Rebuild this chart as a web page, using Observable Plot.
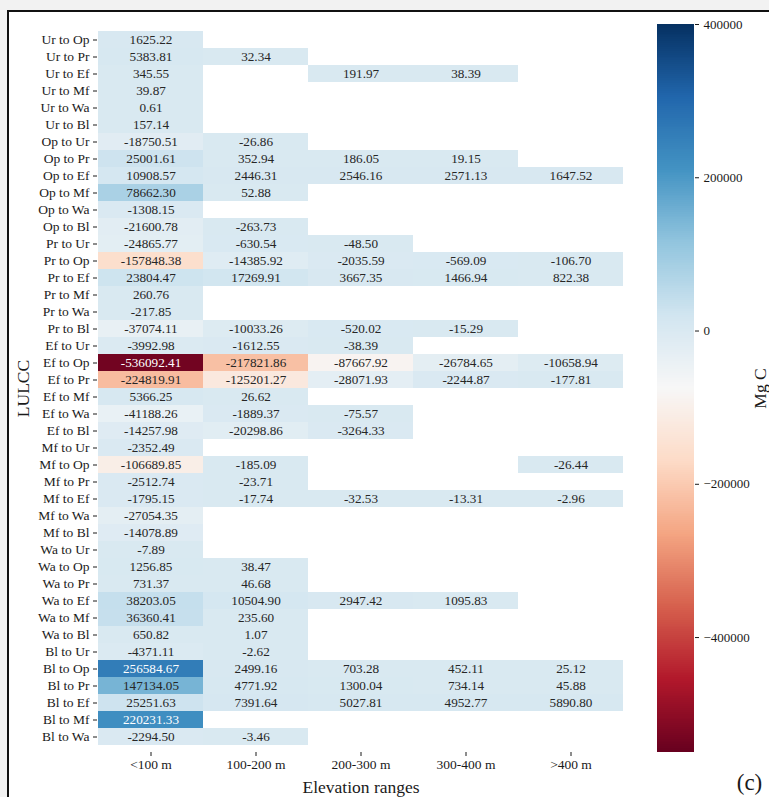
<!DOCTYPE html>
<html><head><meta charset="utf-8">
<script src="https://cdn.jsdelivr.net/npm/d3@7"></script>
<script src="https://cdn.jsdelivr.net/npm/@observablehq/plot@0.6"></script>
<style>
html,body{margin:0;padding:0;}
body{width:769px;height:797px;background:#f2f2f2;position:relative;overflow:hidden;font-family:"Liberation Serif","Times New Roman",serif;}
#frame{position:absolute;left:7px;top:10px;width:800px;height:820px;border-left:2px solid #111;border-top:2px solid #111;background:#fff;}
#heat{position:absolute;left:0;top:0;}
#cbar{position:absolute;left:640px;top:0;}
</style></head><body>
<div id="frame"></div><div id="heat"></div><div id="cbar"></div>
<script>
const lulcc = [
  "Ur to Op","Ur to Pr","Ur to Ef","Ur to Mf","Ur to Wa","Ur to Bl",
  "Op to Ur","Op to Pr","Op to Ef","Op to Mf","Op to Wa","Op to Bl",
  "Pr to Ur","Pr to Op","Pr to Ef","Pr to Mf","Pr to Wa","Pr to Bl",
  "Ef to Ur","Ef to Op","Ef to Pr","Ef to Mf","Ef to Wa","Ef to Bl",
  "Mf to Ur","Mf to Op","Mf to Pr","Mf to Ef","Mf to Wa","Mf to Bl",
  "Wa to Ur","Wa to Op","Wa to Pr","Wa to Ef","Wa to Mf","Wa to Bl",
  "Bl to Ur","Bl to Op","Bl to Pr","Bl to Ef","Bl to Mf","Bl to Wa"
];
const elevations = ["<100 m","100-200 m","200-300 m","300-400 m",">400 m"];
const n = null;
const below100 = [
  1625.22, 5383.81, 345.55, 39.87, 0.61, 157.14,
  -18750.51, 25001.61, 10908.57, 78662.30, -1308.15, -21600.78,
  -24865.77, -157848.38, 23804.47, 260.76, -217.85, -37074.11,
  -3992.98, -536092.41, -224819.91, 5366.25, -41188.26, -14257.98,
  -2352.49, -106689.85, -2512.74, -1795.15, -27054.35, -14078.89,
  -7.89, 1256.85, 731.37, 38203.05, 36360.41, 650.82,
  -4371.11, 256584.67, 147134.05, 25251.63, 220231.33, -2294.50
];
const from100to200 = [
  n, 32.34, n, n, n, n,
  -26.86, 352.94, 2446.31, 52.88, n, -263.73,
  -630.54, -14385.92, 17269.91, n, n, -10033.26,
  -1612.55, -217821.86, -125201.27, 26.62, -1889.37, -20298.86,
  n, -185.09, -23.71, -17.74, n, n,
  n, 38.47, 46.68, 10504.90, 235.60, 1.07,
  -2.62, 2499.16, 4771.92, 7391.64, n, -3.46
];
const from200to300 = [
  n, n, 191.97, n, n, n,
  n, 186.05, 2546.16, n, n, n,
  -48.50, -2035.59, 3667.35, n, n, -520.02,
  -38.39, -87667.92, -28071.93, n, -75.57, -3264.33,
  n, n, n, -32.53, n, n,
  n, n, n, 2947.42, n, n,
  n, 703.28, 1300.04, 5027.81, n, n
];
const from300to400 = [
  n, n, 38.39, n, n, n,
  n, 19.15, 2571.13, n, n, n,
  n, -569.09, 1466.94, n, n, -15.29,
  n, -26784.65, -2244.87, n, n, n,
  n, n, n, -13.31, n, n,
  n, n, n, 1095.83, n, n,
  n, 452.11, 734.14, 4952.77, n, n
];
const above400 = [
  n, n, n, n, n, n,
  n, n, 1647.52, n, n, n,
  n, -106.70, 822.38, n, n, n,
  n, -10658.94, -177.81, n, n, n,
  n, -26.44, n, -2.96, n, n,
  n, n, n, n, n, n,
  n, 25.12, 45.88, 5890.80, n, n
];
const colorbarTicks = [-400000, -200000, 0, 200000, 400000];
const vmin = -550000, vmax = 400000;
const rdbu = ["#67001f","#b2182b","#d6604d","#f4a582","#fddbc7","#f7f7f7","#d1e5f0","#92c5de","#4393c3","#2166ac","#053061"];

const FONT = '"Liberation Serif","Times New Roman",serif';
const stops = rdbu.map((_, i) => vmin + i * (vmax - vmin) / (rdbu.length - 1));
const colorOpts = {type: "linear", domain: stops, range: rdbu, interpolate: "rgb", clamp: true};
const toColor = d3.scaleLinear().domain(stops).range(rdbu).interpolate(d3.interpolateRgb).clamp(true);
function isDark(v) {
  const c = d3.rgb(toColor(v));
  const lin = x => { x /= 255; return x <= 0.03928 ? x / 12.92 : Math.pow((x + 0.055) / 1.055, 2.4); };
  const L = 0.2126 * lin(c.r) + 0.7152 * lin(c.g) + 0.0722 * lin(c.b);
  return L <= 0.408;
}
const columns = [below100, from100to200, from200to300, from300to400, above400];
const cells = [];
lulcc.forEach((name, i) => columns.forEach((col, j) => {
  if (col[i] != null) cells.push({lulcc: name, elev: elevations[j], value: col[i]});
}));

const heat = Plot.plot({
  width: 640, height: 797,
  marginLeft: 97, marginRight: 16, marginTop: 24, marginBottom: 45,
  style: {background: "transparent", fontFamily: FONT, fontSize: "13.5px", color: "#1a1a1a"},
  x: {domain: elevations, padding: 0, label: null, tickSize: 4, tickPadding: 3},
  y: {domain: lulcc, padding: 0, label: null, tickSize: 4, tickPadding: 4},
  color: colorOpts,
  marks: [
    Plot.cell(cells, {x: "elev", y: "lulcc", fill: "value", inset: 0, shapeRendering: "crispEdges"}),
    Plot.text(cells, {filter: d => !isDark(d.value), x: "elev", y: "lulcc", text: d => d.value.toFixed(2), fill: "#262626", fontSize: 13.2}),
    Plot.text(cells, {filter: d => isDark(d.value), x: "elev", y: "lulcc", text: d => d.value.toFixed(2), fill: "#ffffff", fontSize: 13.2}),
    Plot.text(["Elevation ranges"], {frameAnchor: "bottom", dy: 35, fontSize: 17.5, textAnchor: "middle", lineAnchor: "middle", fill: "#1a1a1a"}),
    Plot.text(["LULCC"], {frameAnchor: "left", dx: -74, rotate: -90, fontSize: 17.5, textAnchor: "middle", lineAnchor: "middle", fill: "#1a1a1a"})
  ]
});
document.getElementById("heat").appendChild(heat);

const nSteps = 380;
const stepH = (vmax - vmin) / nSteps;
const barValues = d3.range(nSteps).map(i => vmin + (i + 0.5) * stepH);
const cbar = Plot.plot({
  width: 129, height: 797,
  marginLeft: 17, marginRight: 75, marginTop: 24, marginBottom: 45,
  style: {background: "transparent", fontFamily: FONT, fontSize: "13px", color: "#1a1a1a"},
  x: {domain: [0, 1], axis: null},
  y: {domain: [vmin, vmax], axis: "right", ticks: colorbarTicks, tickSize: 4, tickPadding: 5, label: null,
      tickFormat: d => d < 0 ? "\u2212" + String(-d) : String(d)},
  color: colorOpts,
  marks: [
    Plot.rect(barValues, {x1: 0, x2: 1, y1: d => Math.max(vmin, d - stepH * 0.5), y2: d => Math.min(vmax, d + stepH * 0.6), fill: d => d, shapeRendering: "crispEdges"}),
    Plot.text(["Mg C"], {frameAnchor: "right", dx: 66, rotate: -90, fontSize: 17.5, textAnchor: "middle", lineAnchor: "middle", fill: "#1a1a1a"}),
    Plot.text(["(c)"], {frameAnchor: "bottom-right", dx: 55, dy: 30, fontSize: 23, textAnchor: "middle", lineAnchor: "middle", fill: "#1a1a1a"})
  ]
});
document.getElementById("cbar").appendChild(cbar);
</script>
</body></html>
